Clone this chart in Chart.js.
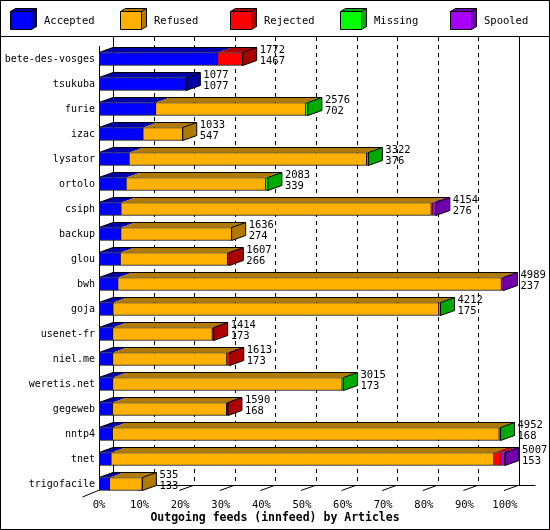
<!DOCTYPE html>
<html>
<head>
<meta charset="utf-8">
<script src="https://cdn.jsdelivr.net/npm/chart.js@4/dist/chart.umd.min.js"></script>
<style>
  html, body { margin: 0; padding: 0; background: #fff; }
  #wrap { width: 550px; height: 530px; }
</style>
</head>
<body>
<div id="wrap"><canvas id="graficoFeeds" width="550" height="530"></canvas></div>
<script>
// datos
const hosts = ['bete-des-vosges', 'tsukuba', 'furie', 'izac', 'lysator', 'ortolo', 'csiph', 'backup', 'glou',
               'bwh', 'goja', 'usenet-fr', 'niel.me', 'weretis.net', 'gegeweb', 'nntp4', 'tnet', 'trigofacile'];
const offered  = [1772, 1077, 2576, 1033, 3322, 2083, 4154, 1636, 1607, 4989, 4212, 1414, 1613, 3015, 1590, 4952, 5007, 535];
const accepted = [1467, 1077, 702, 547, 376, 339, 276, 274, 266, 237, 175, 173, 173, 173, 168, 168, 153, 133];
const refused  = [0, 0, 1849, 486, 2926, 1719, 3823, 1362, 1321, 4727, 4017, 1226, 1405, 2827, 1407, 4769, 4719, 402];
const rejected = [305, 0, 0, 0, 0, 0, 15, 0, 20, 0, 0, 15, 35, 0, 15, 0, 90, 0];
const missing  = [0, 0, 25, 0, 20, 25, 0, 0, 0, 0, 20, 0, 0, 15, 0, 15, 0, 0];
const spooled  = [0, 0, 0, 0, 0, 0, 40, 0, 0, 25, 0, 0, 0, 0, 0, 0, 45, 0];
const tickLabels = ['0%', '10%', '20%', '30%', '40%', '50%', '60%', '70%', '80%', '90%', '100%'];
const titulo = 'Outgoing feeds (innfeed) by Articles';

const series = [
    { label: 'Accepted', data: accepted, color: '#0000ff', dark: '#0000a8' },
    { label: 'Refused',  data: refused,  color: '#ffb000', dark: '#b07a00' },
    { label: 'Rejected', data: rejected, color: '#ff0000', dark: '#aa0000' },
    { label: 'Missing',  data: missing,  color: '#00ff00', dark: '#00aa00' },
    { label: 'Spooled',  data: spooled,  color: '#a800ff', dark: '#7000aa' }
];

const DX = 14, DY = 5;
const mono = '"DejaVu Sans Mono", "Liberation Mono", monospace';

function poly(ctx, pts, fill) {
    ctx.beginPath();
    ctx.moveTo(pts[0][0], pts[0][1]);
    for (let k = 1; k < pts.length; k++) ctx.lineTo(pts[k][0], pts[k][1]);
    ctx.closePath();
    if (fill) { ctx.fillStyle = fill; ctx.fill(); }
    ctx.stroke();
}

function line(ctx, x1, y1, x2, y2) {
    ctx.beginPath();
    ctx.moveTo(x1, y1);
    ctx.lineTo(x2, y2);
    ctx.stroke();
}

const bars3d = {
    id: 'bars3d',
    beforeDraw(chart) {
        const ctx = chart.ctx;
        ctx.save();
        ctx.fillStyle = '#fff';
        ctx.fillRect(0, 0, chart.width, chart.height);
        ctx.restore();
    },
    beforeDatasetsDraw(chart) {
        const ctx = chart.ctx;
        const xs = chart.scales.x;
        const max = xs.max;
        ctx.save();
        ctx.strokeStyle = '#000';
        ctx.lineWidth = 1;
        const floorY = 485.5, topY = 37;
        // pared del fondo
        ctx.setLineDash([4, 4]);
        for (let k = 1; k < tickLabels.length - 1; k++) {
            const xb = Math.round(xs.getPixelForValue(max * k / 10) + DX) + 0.5;
            line(ctx, xb, topY, xb, floorY);
        }
        ctx.setLineDash([]);
        const x0 = Math.round(xs.getPixelForValue(0)) + 0.5;
        const x100 = Math.round(xs.getPixelForValue(max)) + 0.5;
        line(ctx, x0 + DX, topY, x0 + DX, floorY);
        line(ctx, x100 + DX, topY, x100 + DX, floorY);
        // suelo
        line(ctx, x0, floorY, x100 + DX + 16, floorY);
        line(ctx, x0, 46, x0, 490);
        line(ctx, x0, 490, x0 - 17, 497);
        for (let k = 1; k < tickLabels.length; k++) {
            const xf = xs.getPixelForValue(max * k / 10);
            line(ctx, xf - 1, 490.5, xf + DX - 1, floorY);
        }
        ctx.restore();
    },
    afterDatasetsDraw(chart) {
        const ctx = chart.ctx;
        const metas = series.map((_, d) => chart.getDatasetMeta(d));
        ctx.save();
        ctx.strokeStyle = '#000';
        ctx.lineWidth = 1;
        hosts.forEach((host, i) => {
            let first = null, last = null, lastDark = null;
            series.forEach((s, d) => {
                if (!s.data[i]) return;
                const el = metas[d].data[i];
                if (!first) first = el;
                last = el;
                lastDark = s.dark;
                const yt = el.y - el.height / 2;
                ctx.beginPath();
                ctx.moveTo(el.base, yt);
                ctx.lineTo(el.x, yt);
                ctx.lineTo(el.x + DX, yt - DY);
                ctx.lineTo(el.base + DX, yt - DY);
                ctx.closePath();
                ctx.fillStyle = s.dark;
                ctx.fill();
            });
            if (!first) return;
            const xa = first.base, xb = last.x;
            const yt = last.y - last.height / 2, yb = last.y + last.height / 2;
            // contorno de la cara superior y lateral
            line(ctx, xa, yt, xa + DX, yt - DY);
            line(ctx, xa + DX, yt - DY, xb + DX, yt - DY);
            poly(ctx, [[xb, yt], [xb + DX, yt - DY], [xb + DX, yb - DY], [xb, yb]], lastDark);

            ctx.fillStyle = '#000';
            ctx.font = '10.5px ' + mono;
            ctx.textAlign = 'left';
            ctx.textBaseline = 'middle';
            ctx.fillText(String(offered[i]), xb + DX + 3, last.y - 9);
            ctx.fillText(String(accepted[i]), xb + DX + 3, last.y + 2.5);
        });
        ctx.restore();
    },
    afterDraw(chart) {
        const ctx = chart.ctx;
        const xs = chart.scales.x, ys = chart.scales.y;
        ctx.save();
        ctx.strokeStyle = '#000';
        ctx.fillStyle = '#000';
        ctx.lineWidth = 1;

        // nombres de los servidores
        ctx.font = '10px ' + mono;
        ctx.textAlign = 'right';
        ctx.textBaseline = 'middle';
        hosts.forEach((h, i) => ctx.fillText(h, 95, ys.getPixelForValue(i) + 0.5));

        // etiquetas del eje
        ctx.textAlign = 'center';
        ctx.font = '10.5px ' + mono;
        tickLabels.forEach((t, k) => ctx.fillText(t, xs.getPixelForValue(xs.max * k / 10), 505));
        ctx.font = 'bold 11.5px ' + mono;
        ctx.fillText(titulo, 275, 518);

        // leyenda
        series.forEach((s, d) => {
            const bx = 10.5 + d * 110, by = 11.5, w = 21, h = 18, dx = 5, dy = 3;
            poly(ctx, [[bx, by], [bx + dx, by - dy], [bx + w + dx, by - dy], [bx + w, by]], s.dark);
            poly(ctx, [[bx + w, by], [bx + w + dx, by - dy], [bx + w + dx, by + h - dy], [bx + w, by + h]], s.dark);
            poly(ctx, [[bx, by], [bx + w, by], [bx + w, by + h], [bx, by + h]], s.color);
            ctx.fillStyle = '#000';
            ctx.textAlign = 'left';
            ctx.font = '10.5px ' + mono;
            ctx.fillText(s.label, 44 + d * 110, 21);
        });
        line(ctx, 0, 36.5, 550, 36.5);
        ctx.strokeRect(0.5, 0.5, 549, 529);
        ctx.restore();
    }
};

document.addEventListener('DOMContentLoaded', function() {
    const canvas = document.getElementById('graficoFeeds');
    const ctx = canvas.getContext('2d');
    new Chart(ctx, {
        type: 'bar',
        data: {
            labels: hosts,
            datasets: series.map(s => ({
                label: s.label,
                data: s.data,
                backgroundColor: s.color,
                borderColor: '#000',
                borderWidth: 1,
                borderSkipped: 'start',
                barThickness: 13
            }))
        },
        options: {
            indexAxis: 'y',
            responsive: false,
            animation: false,
            layout: { padding: { left: 99, right: 45, top: 46.5, bottom: 33.5 } },
            plugins: {
                legend: { display: false },
                tooltip: { enabled: false }
            },
            scales: {
                x: { stacked: true, min: 0, max: Math.max(...offered), display: false },
                y: { stacked: true, display: false }
            }
        },
        plugins: [bars3d]
    });
});
</script>
</body>
</html>
